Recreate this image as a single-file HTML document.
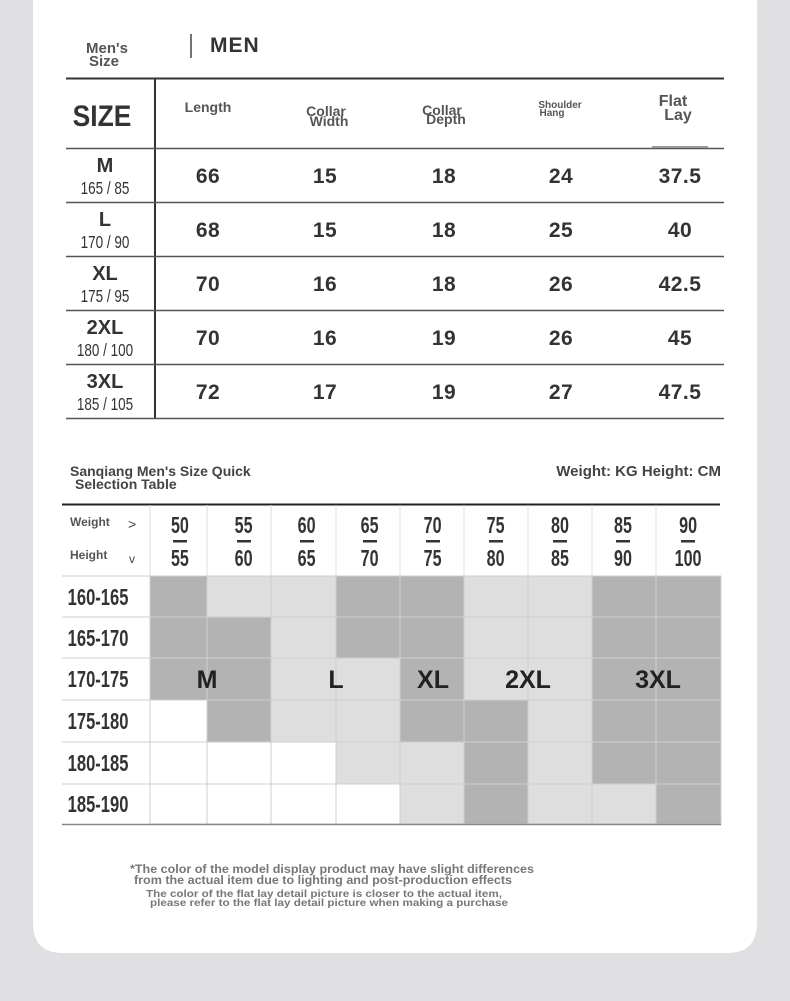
<!DOCTYPE html>
<html><head><meta charset="utf-8"><style>
html,body{margin:0;padding:0;background:#e0dfe1;}
svg{display:block;}
</style></head><body>
<svg width="790" height="1001" viewBox="0 0 790 1001" xmlns="http://www.w3.org/2000/svg" font-family="Liberation Sans, sans-serif">
<rect x="0" y="0" width="790" height="1001" fill="#e0dfe1"/>
<path d="M33 0 H757 V923 Q757 953 727 953 H63 Q33 953 33 923 Z" fill="#fff"/>
<text x="107" y="53" font-size="15" font-weight="bold" fill="#555" text-anchor="middle">Men's</text>
<text x="104" y="66" font-size="15" font-weight="bold" fill="#555" text-anchor="middle">Size</text>
<line x1="191" y1="34" x2="191" y2="58" stroke="#444" stroke-width="1.5"/>
<text x="210" y="52" font-size="21" font-weight="bold" fill="#333" letter-spacing="1">MEN</text>
<line x1="66" y1="78.5" x2="724" y2="78.5" stroke="#333" stroke-width="2"/>
<line x1="155" y1="78" x2="155" y2="418" stroke="#333" stroke-width="2"/>
<g stroke="#555" stroke-width="1.5">
<line x1="66" y1="148.5" x2="724" y2="148.5"/>
<line x1="66" y1="202.5" x2="724" y2="202.5"/>
<line x1="66" y1="256.5" x2="724" y2="256.5"/>
<line x1="66" y1="310.5" x2="724" y2="310.5"/>
<line x1="66" y1="364.5" x2="724" y2="364.5"/>
<line x1="66" y1="418.5" x2="724" y2="418.5"/>
</g>
<text x="102" y="126" font-size="30" font-weight="bold" fill="#333" text-anchor="middle" transform="translate(102 0) scale(0.88 1) translate(-102 0)">SIZE</text>
<g font-weight="bold" fill="#555" text-anchor="middle">
<text x="208" y="112" font-size="14">Length</text>
<text x="326" y="116" font-size="14">Collar</text><text x="329" y="126" font-size="14">Width</text>
<text x="442" y="115" font-size="14">Collar</text><text x="446" y="124" font-size="14">Depth</text>
<text x="560" y="108" font-size="10">Shoulder</text><text x="552" y="116" font-size="10">Hang</text>
<text x="673" y="106" font-size="16">Flat</text><text x="678" y="120" font-size="16">Lay</text>
</g>
<rect x="652" y="146" width="56" height="2" fill="#999"/>
<g fill="#333" text-anchor="middle">
<g font-size="20" font-weight="bold">
<text x="105" y="172">M</text><text x="105" y="226">L</text><text x="105" y="280">XL</text><text x="105" y="334">2XL</text><text x="105" y="388">3XL</text>
</g>
<g font-size="18" transform="scale(0.75 1)">
<text x="140" y="194">165 / 85</text><text x="140" y="248">170 / 90</text><text x="140" y="302">175 / 95</text><text x="140" y="356">180 / 100</text><text x="140" y="410">185 / 105</text>
</g>
<g font-size="21" font-weight="bold" letter-spacing="0.5">
<text x="208" y="183">66</text><text x="325" y="183">15</text><text x="444" y="183">18</text><text x="561" y="183">24</text><text x="680" y="183">37.5</text>
<text x="208" y="237">68</text><text x="325" y="237">15</text><text x="444" y="237">18</text><text x="561" y="237">25</text><text x="680" y="237">40</text>
<text x="208" y="291">70</text><text x="325" y="291">16</text><text x="444" y="291">18</text><text x="561" y="291">26</text><text x="680" y="291">42.5</text>
<text x="208" y="345">70</text><text x="325" y="345">16</text><text x="444" y="345">19</text><text x="561" y="345">26</text><text x="680" y="345">45</text>
<text x="208" y="399">72</text><text x="325" y="399">17</text><text x="444" y="399">19</text><text x="561" y="399">27</text><text x="680" y="399">47.5</text>
</g>
</g>
<text x="70" y="476" font-size="14" font-weight="bold" fill="#444">Sanqiang Men's Size Quick</text>
<text x="75" y="489" font-size="14" font-weight="bold" fill="#444">Selection Table</text>
<text x="721" y="476" font-size="15" font-weight="bold" fill="#444" text-anchor="end">Weight: KG Height: CM</text>
<line x1="62" y1="504.5" x2="720" y2="504.5" stroke="#222" stroke-width="2"/>
<g stroke="#ddd" stroke-width="1">
<line x1="150" y1="505" x2="150" y2="576"/><line x1="207" y1="505" x2="207" y2="576"/><line x1="271" y1="505" x2="271" y2="576"/><line x1="336" y1="505" x2="336" y2="576"/><line x1="400" y1="505" x2="400" y2="576"/><line x1="464" y1="505" x2="464" y2="576"/><line x1="528" y1="505" x2="528" y2="576"/><line x1="592" y1="505" x2="592" y2="576"/><line x1="656" y1="505" x2="656" y2="576"/>
</g>
<text x="70" y="526" font-size="12" font-weight="bold" fill="#555">Weight</text>
<text x="70" y="559" font-size="12" font-weight="bold" fill="#555">Height</text>
<text x="128" y="529" font-size="14" fill="#444">&gt;</text>
<text x="129" y="563" font-size="12" fill="#444">v</text>
<g font-size="23" font-weight="bold" fill="#333" text-anchor="middle" transform="scale(0.7 1)">
<text x="257" y="533">50</text><text x="257" y="566">55</text>
<text x="348" y="533">55</text><text x="348" y="566">60</text>
<text x="438" y="533">60</text><text x="438" y="566">65</text>
<text x="528" y="533">65</text><text x="528" y="566">70</text>
<text x="618" y="533">70</text><text x="618" y="566">75</text>
<text x="708" y="533">75</text><text x="708" y="566">80</text>
<text x="800" y="533">80</text><text x="800" y="566">85</text>
<text x="890" y="533">85</text><text x="890" y="566">90</text>
<text x="983" y="533">90</text><text x="983" y="566">100</text>
</g>
<g fill="#333">
<rect x="173" y="540" width="14" height="2.5"/><rect x="237" y="540" width="14" height="2.5"/><rect x="300" y="540" width="14" height="2.5"/><rect x="363" y="540" width="14" height="2.5"/><rect x="426" y="540" width="14" height="2.5"/><rect x="489" y="540" width="14" height="2.5"/><rect x="553" y="540" width="14" height="2.5"/><rect x="616" y="540" width="14" height="2.5"/><rect x="681" y="540" width="14" height="2.5"/>
</g>
<g stroke="#cfcfcf" stroke-width="1">
<rect x="150" y="576" width="57" height="41" fill="#b3b3b3"/><rect x="207" y="576" width="64" height="41" fill="#dedede"/><rect x="271" y="576" width="65" height="41" fill="#dedede"/><rect x="336" y="576" width="64" height="41" fill="#b3b3b3"/><rect x="400" y="576" width="64" height="41" fill="#b3b3b3"/><rect x="464" y="576" width="64" height="41" fill="#dedede"/><rect x="528" y="576" width="64" height="41" fill="#dedede"/><rect x="592" y="576" width="64" height="41" fill="#b3b3b3"/><rect x="656" y="576" width="65" height="41" fill="#b3b3b3"/>
<rect x="150" y="617" width="57" height="41" fill="#b3b3b3"/><rect x="207" y="617" width="64" height="41" fill="#b3b3b3"/><rect x="271" y="617" width="65" height="41" fill="#dedede"/><rect x="336" y="617" width="64" height="41" fill="#b3b3b3"/><rect x="400" y="617" width="64" height="41" fill="#b3b3b3"/><rect x="464" y="617" width="64" height="41" fill="#dedede"/><rect x="528" y="617" width="64" height="41" fill="#dedede"/><rect x="592" y="617" width="64" height="41" fill="#b3b3b3"/><rect x="656" y="617" width="65" height="41" fill="#b3b3b3"/>
<rect x="150" y="658" width="57" height="42" fill="#b3b3b3"/><rect x="207" y="658" width="64" height="42" fill="#b3b3b3"/><rect x="271" y="658" width="65" height="42" fill="#dedede"/><rect x="336" y="658" width="64" height="42" fill="#dedede"/><rect x="400" y="658" width="64" height="42" fill="#b3b3b3"/><rect x="464" y="658" width="64" height="42" fill="#dedede"/><rect x="528" y="658" width="64" height="42" fill="#dedede"/><rect x="592" y="658" width="64" height="42" fill="#b3b3b3"/><rect x="656" y="658" width="65" height="42" fill="#b3b3b3"/>
<rect x="150" y="700" width="57" height="42" fill="#fff"/><rect x="207" y="700" width="64" height="42" fill="#b3b3b3"/><rect x="271" y="700" width="65" height="42" fill="#dedede"/><rect x="336" y="700" width="64" height="42" fill="#dedede"/><rect x="400" y="700" width="64" height="42" fill="#b3b3b3"/><rect x="464" y="700" width="64" height="42" fill="#b3b3b3"/><rect x="528" y="700" width="64" height="42" fill="#dedede"/><rect x="592" y="700" width="64" height="42" fill="#b3b3b3"/><rect x="656" y="700" width="65" height="42" fill="#b3b3b3"/>
<rect x="150" y="742" width="57" height="42" fill="#fff"/><rect x="207" y="742" width="64" height="42" fill="#fff"/><rect x="271" y="742" width="65" height="42" fill="#fff"/><rect x="336" y="742" width="64" height="42" fill="#dedede"/><rect x="400" y="742" width="64" height="42" fill="#dedede"/><rect x="464" y="742" width="64" height="42" fill="#b3b3b3"/><rect x="528" y="742" width="64" height="42" fill="#dedede"/><rect x="592" y="742" width="64" height="42" fill="#b3b3b3"/><rect x="656" y="742" width="65" height="42" fill="#b3b3b3"/>
<rect x="150" y="784" width="57" height="40" fill="#fff"/><rect x="207" y="784" width="64" height="40" fill="#fff"/><rect x="271" y="784" width="65" height="40" fill="#fff"/><rect x="336" y="784" width="64" height="40" fill="#fff"/><rect x="400" y="784" width="64" height="40" fill="#dedede"/><rect x="464" y="784" width="64" height="40" fill="#b3b3b3"/><rect x="528" y="784" width="64" height="40" fill="#dedede"/><rect x="592" y="784" width="64" height="40" fill="#dedede"/><rect x="656" y="784" width="65" height="40" fill="#b3b3b3"/>
<line x1="62" y1="576" x2="150" y2="576"/><line x1="62" y1="617" x2="150" y2="617"/><line x1="62" y1="658" x2="150" y2="658"/><line x1="62" y1="700" x2="150" y2="700"/><line x1="62" y1="742" x2="150" y2="742"/><line x1="62" y1="784" x2="150" y2="784"/>
</g>
<line x1="62" y1="824.5" x2="721" y2="824.5" stroke="#888" stroke-width="1.5"/>
<g font-size="23" font-weight="bold" fill="#333" transform="scale(0.72 1)">
<text x="94" y="605">160-165</text><text x="94" y="646">165-170</text><text x="94" y="687">170-175</text><text x="94" y="729">175-180</text><text x="94" y="771">180-185</text><text x="94" y="812">185-190</text>
</g>
<g font-size="25" font-weight="bold" fill="#222" text-anchor="middle">
<text x="207" y="688">M</text><text x="336" y="688">L</text><text x="433" y="688">XL</text><text x="528" y="688">2XL</text><text x="658" y="688">3XL</text>
</g>
<g font-weight="bold" fill="#777">
<text x="130" y="873" font-size="11.5" textLength="404" lengthAdjust="spacingAndGlyphs">*The color of the model display product may have slight differences</text>
<text x="134" y="884" font-size="11.5" textLength="378" lengthAdjust="spacingAndGlyphs">from the actual item due to lighting and post-production effects</text>
<text x="146" y="897" font-size="10" textLength="356" lengthAdjust="spacingAndGlyphs">The color of the flat lay detail picture is closer to the actual item,</text>
<text x="150" y="906" font-size="10" textLength="358" lengthAdjust="spacingAndGlyphs">please refer to the flat lay detail picture when making a purchase</text>
</g>
</svg>
</body></html>
